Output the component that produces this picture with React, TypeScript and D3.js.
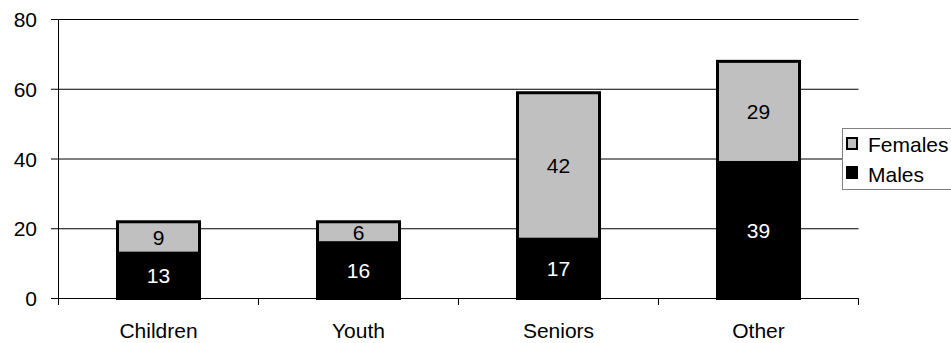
import React from "react";
import * as d3 from "d3";

const categories = ["Children", "Youth", "Seniors", "Other"];
const males = [13, 16, 17, 39];
const females = [9, 6, 42, 29];
const yTicks = [0, 20, 40, 60, 80];
const seriesNames = ["Females", "Males"];

const W = 951;
const H = 343;
const FONT = "'Liberation Sans', Arial, sans-serif";

export default function App() {
  const x = d3.scaleBand<string>().domain(categories).range([58.5, 858.5]).padding(0);
  const y = d3.scaleLinear().domain([0, 80]).range([298.5, 19.5]);
  const barW = 82;
  const fs = 21;

  return (
    <svg
      width={W}
      height={H}
      style={{ position: "absolute", left: 0, top: 0, background: "#fff" }}
      fontFamily={FONT}
    >
      <rect x={0} y={0} width={W} height={H} fill="#fff" />
      {/* gridlines */}
      {yTicks.map((t) => (
        <line key={"g" + t} x1={58.5} x2={858.5} y1={y(t)} y2={y(t)} stroke="#000" strokeWidth={1} />
      ))}
      {/* y ticks and labels */}
      {yTicks.map((t) => (
        <g key={"yt" + t}>
          <line x1={51} x2={58.5} y1={y(t)} y2={y(t)} stroke="#000" />
          <text x={37} y={y(t)} textAnchor="end" dominantBaseline="central" fontSize={fs} fill="#000">
            {t}
          </text>
        </g>
      ))}
      {/* y axis */}
      <line x1={58.5} x2={58.5} y1={y(80)} y2={305} stroke="#000" />
      {/* x category ticks */}
      {categories.map((c) => (
        <line key={"xt" + c} x1={(x(c) as number) + x.bandwidth()} x2={(x(c) as number) + x.bandwidth()} y1={y(0)} y2={305} stroke="#000" />
      ))}
      {/* bars */}
      {categories.map((c, i) => {
        const cx = (x(c) as number) + x.bandwidth() / 2;
        const m = males[i];
        const f = females[i];
        const yM = y(m);
        const yT = y(m + f);
        return (
          <g key={"b" + c}>
            <rect x={cx - barW / 2} y={yM} width={barW} height={y(0) - yM} fill="#000" stroke="#000" strokeWidth={3} />
            <rect x={cx - barW / 2} y={yT} width={barW} height={yM - yT} fill="#C0C0C0" stroke="#000" strokeWidth={3} />
            <text x={cx} y={(yM + y(0)) / 2} textAnchor="middle" dominantBaseline="central" fontSize={fs} fill="#fff">
              {m}
            </text>
            <text x={cx} y={(yT + yM) / 2} textAnchor="middle" dominantBaseline="central" fontSize={fs} fill="#000">
              {f}
            </text>
          </g>
        );
      })}
      {/* x axis line */}
      <line x1={58.5} x2={858.5} y1={y(0)} y2={y(0)} stroke="#000" />
      {/* category labels */}
      {categories.map((c) => (
        <text key={"cl" + c} x={(x(c) as number) + x.bandwidth() / 2} y={338} textAnchor="middle" fontSize={fs} fill="#000">
          {c}
        </text>
      ))}
      {/* legend */}
      <g>
        <rect x={842.5} y={128.5} width={120} height={61} fill="#fff" stroke="#808080" strokeWidth={1} />
        <rect x={847} y={138} width={10} height={11} fill="#C0C0C0" stroke="#000" strokeWidth={2} />
        <rect x={847} y={167} width={10} height={11} fill="#000" stroke="#000" strokeWidth={2} />
        <text x={868} y={151.5} fontSize={fs} fill="#000">{seriesNames[0]}</text>
        <text x={868} y={181.5} fontSize={fs} fill="#000">{seriesNames[1]}</text>
      </g>
    </svg>
  );
}
